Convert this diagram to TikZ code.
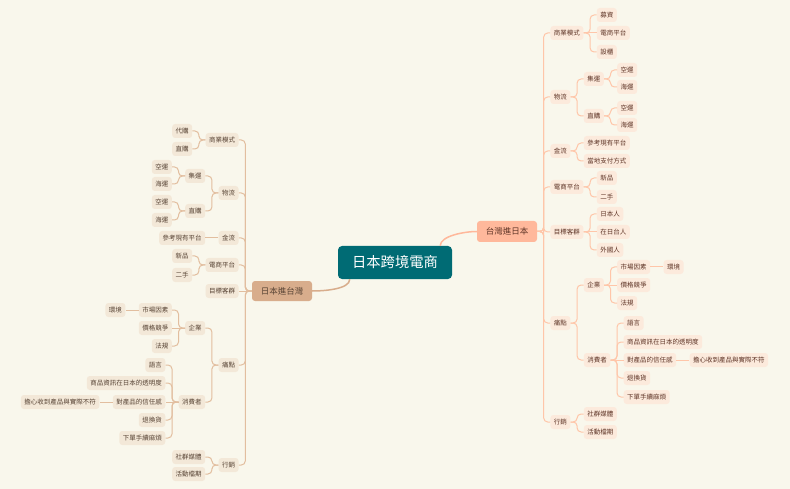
\documentclass[tikz,border=0pt]{standalone}
\usepackage{fontspec}
\setmainfont{Noto Sans CJK TC}
\usetikzlibrary{calc}
\definecolor{bg}{HTML}{F9F7EC}
\definecolor{teal}{HTML}{006B74}
\definecolor{rmain}{HTML}{FFB89B}
\definecolor{lmain}{HTML}{D8AD8C}
\definecolor{rfill}{HTML}{FCEADC}
\definecolor{lfill}{HTML}{F3E8D8}
\definecolor{rline}{HTML}{FFC6A9}
\definecolor{lline}{HTML}{E2BE9F}
\definecolor{rtext}{HTML}{5E3426}
\definecolor{ltext}{HTML}{574334}
\tikzset{
  base/.style={inner xsep=3.5pt, inner ysep=0pt, minimum height=14pt, rounded corners=3pt,
    font=\fontsize{6.5pt}{7pt}\selectfont, text height=5.6pt, text depth=0.65pt},
  rn/.style={base, fill=rfill, text=rtext},
  ln/.style={base, fill=lfill, text=ltext},
  rl/.style={draw=rline, line width=1pt, rounded corners=4pt},
  ll/.style={draw=lline, line width=1pt, rounded corners=4pt},
  cn/.style={fill=teal, text=white, rounded corners=4pt, minimum width=114pt, minimum height=33pt,
    font=\fontsize{14.3pt}{16pt}\selectfont, inner sep=0pt},
  rm/.style={fill=rmain, text=rtext, rounded corners=3pt, minimum width=60pt, minimum height=21pt,
    font=\fontsize{8.5pt}{10pt}\selectfont, inner sep=0pt},
  lm/.style={fill=lmain, text=ltext, rounded corners=3pt, minimum width=60pt, minimum height=20pt,
    font=\fontsize{8.5pt}{10pt}\selectfont, inner sep=0pt},
}
% child below/above parent: elbow connector
\newcommand\RN[4]{\node[rn,anchor=west] (#1) at ($(#2.east |- 0,#3)+(13,0)$) {#4};
  \draw[rl] (#2.east) -- ++(6.5,0) |- (#1.west);}
\newcommand\LN[4]{\node[ln,anchor=east] (#1) at ($(#2.west |- 0,#3)+(-13,0)$) {#4};
  \draw[ll] (#2.west) -- ++(-6.5,0) |- (#1.east);}
% child level with parent: straight connector
\newcommand\RS[3]{\node[rn,anchor=west] (#1) at ($(#2.east)+(13,0)$) {#3};
  \draw[rl] (#2.east) -- (#1.west);}
\newcommand\LS[3]{\node[ln,anchor=east] (#1) at ($(#2.west)+(-13,0)$) {#3};
  \draw[ll] (#2.west) -- (#1.east);}
\begin{document}
\begin{tikzpicture}[x=1pt,y=-1pt]
\fill[bg] (0,0) rectangle (790,489);
\useasboundingbox (0,0) rectangle (790,489);
\node[cn] (c) at (395,262.5) {日本跨境電商};
\node[rm] (r) at (507,231.5) {台灣進日本};
\node[lm] (l) at (282,291) {日本進台灣};
\draw[draw=rmain, line width=1.5pt] ([xshift=-12pt]c.north east) .. controls +(0,-10) and +(-12,0) .. (r.west);
\draw[draw=lmain, line width=1.5pt] ([xshift=12pt]c.south west) .. controls +(0,10) and +(12,0) .. (l.east);
% right side
\RN{Ra}{r}{33}{商業模式}
\RN{Ra1}{Ra}{15}{募資}
\RS{Ra2}{Ra}{電商平台}
\RN{Ra3}{Ra}{52}{設櫃}
\RN{Rb}{r}{97}{物流}
\RN{Rb1}{Rb}{79}{集運}
\RN{Rb11}{Rb1}{70}{空運}
\RN{Rb12}{Rb1}{87}{海運}
\RN{Rb2}{Rb}{116}{直購}
\RN{Rb21}{Rb2}{108}{空運}
\RN{Rb22}{Rb2}{125}{海運}
\RN{Rc}{r}{151}{金流}
\RN{Rc1}{Rc}{143}{參考現有平台}
\RN{Rc2}{Rc}{161}{當地支付方式}
\RN{Rd}{r}{187}{電商平台}
\RN{Rd1}{Rd}{178}{新品}
\RN{Rd2}{Rd}{197}{二手}
\RN{Re}{r}{232}{目標客群}
\RN{Re1}{Re}{214}{日本人}
\RS{Re2}{Re}{在日台人}
\RN{Re3}{Re}{250}{外國人}
\RN{Rf}{r}{323}{痛點}
\RN{Rf1}{Rf}{285}{企業}
\RN{Rf11}{Rf1}{267}{市場因素}
\RS{Rf111}{Rf11}{環境}
\RS{Rf12}{Rf1}{價格競爭}
\RN{Rf13}{Rf1}{303}{法規}
\RN{Rf2}{Rf}{360}{消費者}
\RN{Rf21}{Rf2}{323}{語言}
\RN{Rf22}{Rf2}{342}{商品資訊在日本的透明度}
\RS{Rf23}{Rf2}{對產品的信任感}
\RS{Rf231}{Rf23}{擔心收到產品與實際不符}
\RN{Rf24}{Rf2}{378}{退換貨}
\RN{Rf25}{Rf2}{397}{下單手續麻煩}
\RN{Rg}{r}{422}{行銷}
\RN{Rg1}{Rg}{414}{社群媒體}
\RN{Rg2}{Rg}{432}{活動檔期}
% left side
\LN{La}{l}{140}{商業模式}
\LN{La1}{La}{131}{代購}
\LN{La2}{La}{149}{直購}
\LN{Lb}{l}{193}{物流}
\LN{Lb1}{Lb}{176}{集運}
\LN{Lb11}{Lb1}{167}{空運}
\LN{Lb12}{Lb1}{184}{海運}
\LN{Lb2}{Lb}{211}{直購}
\LN{Lb21}{Lb2}{202}{空運}
\LN{Lb22}{Lb2}{220}{海運}
\LN{Lc}{l}{238}{金流}
\LS{Lc1}{Lc}{參考現有平台}
\LN{Ld}{l}{265}{電商平台}
\LN{Ld1}{Ld}{256}{新品}
\LN{Ld2}{Ld}{275}{二手}
\LS{Le}{l}{目標客群}
\LN{Lf}{l}{365}{痛點}
\LN{Lf1}{Lf}{328}{企業}
\LN{Lf11}{Lf1}{310}{市場因素}
\LS{Lf111}{Lf11}{環境}
\LS{Lf12}{Lf1}{價格競爭}
\LN{Lf13}{Lf1}{346}{法規}
\LN{Lf2}{Lf}{402}{消費者}
\LN{Lf21}{Lf2}{365}{語言}
\LN{Lf22}{Lf2}{383}{商品資訊在日本的透明度}
\LS{Lf23}{Lf2}{對產品的信任感}
\LS{Lf231}{Lf23}{擔心收到產品與實際不符}
\LN{Lf24}{Lf2}{420}{退換貨}
\LN{Lf25}{Lf2}{438}{下單手續麻煩}
\LN{Lg}{l}{465}{行銷}
\LN{Lg1}{Lg}{457}{社群媒體}
\LN{Lg2}{Lg}{474}{活動檔期}
\end{tikzpicture}
\end{document}
